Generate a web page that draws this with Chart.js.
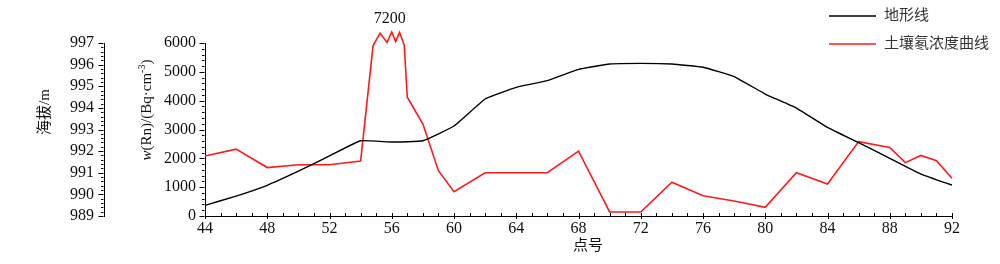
<!DOCTYPE html>
<html>
<head>
<meta charset="utf-8">
<script src="https://cdn.jsdelivr.net/npm/chart.js@4"></script>
<style>
  html, body { margin: 0; padding: 0; background: #fff; }
  #wrap { width: 1000px; height: 264px; }
</style>
</head>
<body>
<div id="wrap"><canvas id="chart-radon"></canvas></div>
<script>
// 点号 / 地形高程
const terrainX = [44, 46, 48, 50, 52, 54, 56, 58, 60, 62, 64, 66, 68, 70, 72, 74, 76, 78, 80, 82, 84, 86, 88, 90, 92];
const terrainElev = [989.49, 989.92, 990.42, 991.07, 991.78, 992.48, 992.42, 992.48, 993.16, 994.41, 994.95, 995.26, 995.78,
  996.03, 996.06, 996.03, 995.88, 995.45, 994.64, 993.99, 993.10, 992.39, 991.67, 990.94, 990.43];

// 土壤氡浓度
const radonX = [44, 46, 48, 50, 52, 54, 54.8, 55.25, 55.7, 56, 56.25, 56.5, 56.8, 57, 58, 59, 60, 62, 64, 66, 68, 70, 72,
  74, 76, 78, 80, 82, 84, 86, 88, 89, 90, 91, 92];
const radonVal = [2080, 2320, 1680, 1780, 1780, 1910, 5910, 6340, 6020, 6380, 6050, 6370, 5930, 4120, 3190, 1570, 840,
  1500, 1500, 1500, 2250, 140, 140, 1170, 700, 520, 300, 1500, 1110, 2580, 2380, 1850, 2100, 1920, 1310];

const xTicks = [44, 48, 52, 56, 60, 64, 68, 72, 76, 80, 84, 88, 92];
const radonTicks = [0, 1000, 2000, 3000, 4000, 5000, 6000];
const elevTicks = [989, 990, 991, 992, 993, 994, 995, 996, 997];
const peakLabel = '7200';

const serif = '"Liberation Serif", "Times New Roman", "Noto Sans CJK SC", serif';
const cjk = '"Liberation Serif", "Noto Sans CJK SC", sans-serif';

const toPoints = (xs, ys) => xs.map((x, i) => ({ x, y: ys[i] }));

// 刻度线、标题、图例、峰值标注
const decorPlugin = {
  id: 'decor',
  afterDraw(chart) {
    const ctx = chart.ctx;
    const { x, y, y2 } = chart.scales;
    const area = chart.chartArea;
    ctx.save();
    ctx.strokeStyle = '#000';
    ctx.lineWidth = 1;
    ctx.beginPath();
    // x 刻度：每个点号一个小刻度（向内），标注处向外
    for (let v = x.min; v <= x.max; v++) {
      const px = Math.round(x.getPixelForValue(v)) + 0.5;
      ctx.moveTo(px, area.bottom - 3);
      ctx.lineTo(px, area.bottom);
      if (xTicks.includes(v)) {
        ctx.moveTo(px, area.bottom);
        ctx.lineTo(px, area.bottom + 3);
      }
    }
    // 浓度轴
    const yLine = Math.round(area.left) - 0.5;
    for (let v = y.min; v <= y.max; v += 200) {
      const py = Math.round(y.getPixelForValue(v)) + 0.5;
      const len = v % 1000 === 0 ? 5 : 2.5;
      ctx.moveTo(yLine - len, py);
      ctx.lineTo(yLine, py);
    }
    // 海拔轴
    const eLine = Math.round(y2.right) - 0.5;
    for (let i = 0; i <= 40; i++) {
      const v = y2.min + i * 0.2;
      const py = Math.round(y2.getPixelForValue(v)) + 0.5;
      const len = i % 5 === 0 ? 5 : 2.5;
      ctx.moveTo(eLine - len, py);
      ctx.lineTo(eLine, py);
    }
    ctx.stroke();

    ctx.fillStyle = '#111';
    ctx.textBaseline = 'middle';

    // 峰值
    ctx.font = '16px ' + serif;
    ctx.textAlign = 'center';
    ctx.fillText(peakLabel, x.getPixelForValue(56) - 2, 19);

    // x 标题
    ctx.font = '15px ' + cjk;
    ctx.fillText('点号', 588, 246);

    // 海拔标题
    ctx.save();
    ctx.translate(45, 112);
    ctx.rotate(-Math.PI / 2);
    ctx.fillText('海拔/m', 0, 0);
    ctx.restore();

    // 浓度标题 w(Rn)/(Bq·cm⁻³)
    ctx.save();
    ctx.translate(147, 110);
    ctx.rotate(-Math.PI / 2);
    ctx.textAlign = 'left';
    const parts = [
      { t: 'w', f: 'italic 15px ' + serif, dy: 0 },
      { t: '(Rn)/(Bq·cm', f: '15px ' + serif, dy: 0 },
      { t: '-3', f: '10px ' + serif, dy: -5 },
      { t: ')', f: '15px ' + serif, dy: 0 }
    ];
    let total = 0;
    parts.forEach((p) => { ctx.font = p.f; p.w = ctx.measureText(p.t).width; total += p.w; });
    let cx = -total / 2;
    parts.forEach((p) => { ctx.font = p.f; ctx.fillText(p.t, cx, p.dy); cx += p.w; });
    ctx.restore();

    // 图例
    const legend = [
      { label: '地形线', color: '#000', y: 16 },
      { label: '土壤氡浓度曲线', color: '#ff1a1a', y: 44 }
    ];
    ctx.textAlign = 'left';
    ctx.font = '15px ' + cjk;
    legend.forEach((l) => {
      ctx.strokeStyle = l.color;
      ctx.lineWidth = 1.5;
      ctx.beginPath();
      ctx.moveTo(829, l.y);
      ctx.lineTo(876, l.y);
      ctx.stroke();
      ctx.fillStyle = '#333';
      ctx.fillText(l.label, 884, l.y);
    });
    ctx.restore();
  }
};

const tickFont = { family: serif, size: 16 };
const plain = (v) => String(v);

new Chart(document.getElementById('chart-radon'), {
  type: 'line',
  data: {
    datasets: [
      {
        label: '地形线',
        data: toPoints(terrainX, terrainElev),
        yAxisID: 'y2',
        borderColor: '#000',
        borderWidth: 1.4,
        pointRadius: 0,
        tension: 0.1
      },
      {
        label: '土壤氡浓度曲线',
        data: toPoints(radonX, radonVal),
        yAxisID: 'y',
        borderColor: '#ff1a1a',
        borderWidth: 1.6,
        pointRadius: 0,
        tension: 0,
        clip: false
      }
    ]
  },
  options: {
    responsive: true,
    maintainAspectRatio: false,
    animation: false,
    events: [],
    layout: { padding: { top: 43, right: 48, left: 0, bottom: 0 } },
    plugins: { legend: { display: false }, tooltip: { enabled: false } },
    scales: {
      x: {
        type: 'linear',
        min: 44,
        max: 92,
        afterBuildTicks: (s) => { s.ticks = xTicks.map((v) => ({ value: v })); },
        afterFit: (s) => { s.height = 48; },
        ticks: { font: tickFont, color: '#111', padding: 3, maxRotation: 0, autoSkip: false, callback: plain },
        grid: { display: false, drawTicks: false },
        border: { display: true, color: '#000', width: 1 }
      },
      y: {
        position: 'left',
        weight: 0,
        min: 0,
        max: 6000,
        afterBuildTicks: (s) => { s.ticks = radonTicks.map((v) => ({ value: v })); },
        afterFit: (s) => { s.width = 101; },
        ticks: { font: tickFont, color: '#111', padding: 9, autoSkip: false, callback: plain },
        grid: { display: false, drawTicks: false },
        border: { display: true, color: '#000', width: 1 }
      },
      y2: {
        position: 'left',
        weight: 1,
        min: 989,
        max: 997,
        afterBuildTicks: (s) => { s.ticks = elevTicks.map((v) => ({ value: v })); },
        afterFit: (s) => { s.width = 104; },
        ticks: { font: tickFont, color: '#111', padding: 10, autoSkip: false, callback: plain },
        grid: { display: false, drawTicks: false },
        border: { display: true, color: '#000', width: 1 }
      }
    }
  },
  plugins: [decorPlugin]
});
</script>
</body>
</html>
